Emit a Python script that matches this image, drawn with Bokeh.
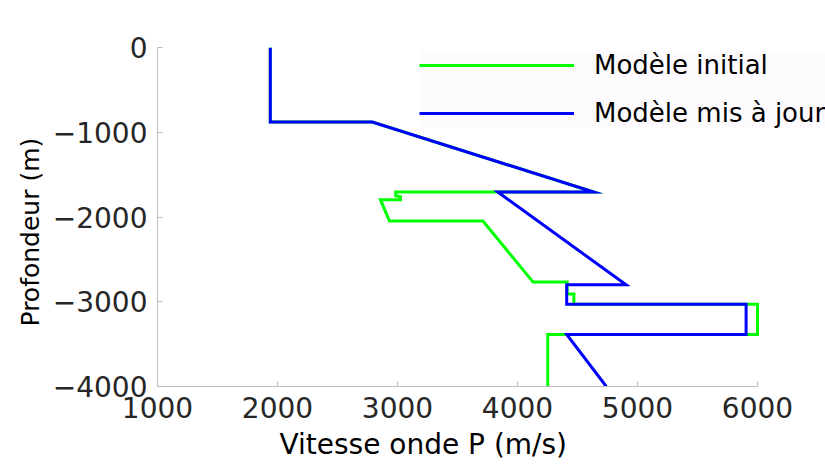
from bokeh.plotting import figure
from bokeh.models import Range1d, FixedTicker, Title
from bokeh.embed import file_html
from bokeh.resources import INLINE

# Initial model (green)
init_v = [1940, 1940, 2790, 4635, 2985, 2985, 3025, 3025, 2858, 2933, 3712, 4130, 4414, 4414, 4470, 4470, 6000, 6000, 4252, 4252]
init_z = [0, -880, -880, -1705, -1705, -1750, -1760, -1795, -1795, -2048, -2048, -2768, -2768, -2910, -2910, -3030, -3030, -3385, -3385, -4000]

# Updated model (blue)
upd_v = [1940, 1940, 2790, 4635, 3835, 4905, 4410, 4410, 5905, 5905, 4410, 4740]
upd_z = [0, -880, -880, -1705, -1705, -2800, -2800, -3030, -3030, -3385, -3385, -4000]

x_ticks = [1000, 2000, 3000, 4000, 5000, 6000]
y_ticks = [-4000, -3000, -2000, -1000, 0]
y_tick_labels = {-4000: "\u22124000", -3000: "\u22123000", -2000: "\u22122000", -1000: "\u22121000", 0: "0"}

FONT = "DejaVu Sans"

W, H = 825, 466
LEFT, TOP, FRAME_H = 157, 47, 339
PX_PER_UNIT = 600 / 5000.0
x_end = 1000 + (W - LEFT) / PX_PER_UNIT

p = figure(width=W, height=H, output_backend="svg", toolbar_location=None,
           x_range=Range1d(1000, x_end), y_range=Range1d(-4000, 0),
           min_border_left=LEFT, min_border_right=0,
           min_border_top=TOP, min_border_bottom=H - TOP - FRAME_H)
p.outline_line_color = None
p.xgrid.visible = False
p.ygrid.visible = False

p.line(init_v, init_z, line_color="#00ff00", line_width=3, line_join="miter",
       legend_label="Modèle initial")
p.line(upd_v, upd_z, line_color="#0000ff", line_width=3, line_join="miter",
       legend_label="Modèle mis à jour")

for ax in (p.xaxis[0], p.yaxis[0]):
    ax.axis_line_color = "#bdbdbd"
    ax.major_tick_line_color = "#bdbdbd"
    ax.major_tick_in = 5
    ax.major_tick_out = 0
    ax.minor_tick_line_color = None
    ax.major_label_text_font = FONT
    ax.major_label_text_font_size = "28px"
    ax.major_label_text_color = "#262626"

p.xaxis.bounds = (1000, 6000)
p.xaxis.ticker = FixedTicker(ticks=x_ticks)
p.yaxis.ticker = FixedTicker(ticks=y_ticks)
p.yaxis.major_label_overrides = y_tick_labels
p.xaxis.major_label_standoff = 10
p.yaxis.major_label_standoff = 10

xlabel = Title(text="Vitesse onde P (m/s)", align="left", offset=122,
               text_font=FONT, text_font_size="28px", text_font_style="normal",
               text_color="#000000", standoff=11)
p.add_layout(xlabel, "below")

ylabel = Title(text="Profondeur (m)", align="left", offset=60,
               text_font=FONT, text_font_size="25px", text_font_style="normal",
               text_color="#000000", standoff=10)
p.add_layout(ylabel, "left")

lg = p.legend[0]
lg.location = (262, 258)
lg.label_text_font = FONT
lg.label_text_font_size = "26px"
lg.label_text_color = "#000000"
lg.glyph_width = 155
lg.glyph_height = 30
lg.label_height = 30
lg.label_standoff = 20
lg.spacing = 18
lg.padding = 10
lg.margin = 0
lg.border_line_color = None
lg.background_fill_color = "#fdfbfd"
lg.background_fill_alpha = 1.0

open("out.html", "w").write(file_html(p, INLINE))
